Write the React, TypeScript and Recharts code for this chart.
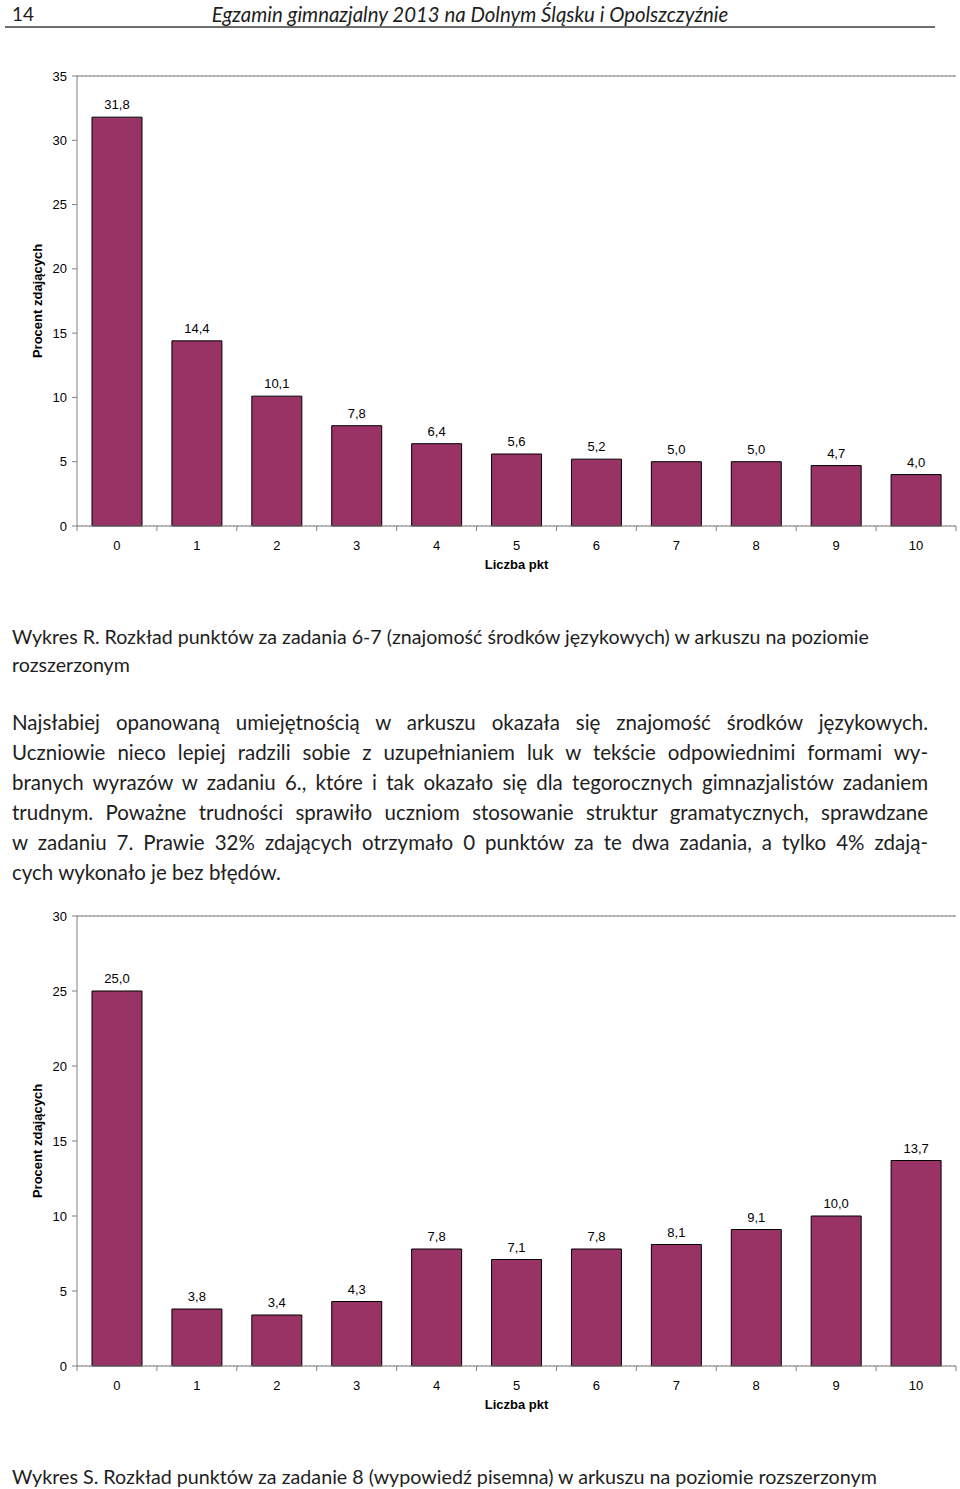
import React from 'react';
import { BarChart, Bar, XAxis, YAxis, CartesianGrid, LabelList, ReferenceLine } from 'recharts';

const categories = ['0', '1', '2', '3', '4', '5', '6', '7', '8', '9', '10'];
const valuesR = [31.8, 14.4, 10.1, 7.8, 6.4, 5.6, 5.2, 5.0, 5.0, 4.7, 4.0];
const valuesS = [25.0, 3.8, 3.4, 4.3, 7.8, 7.1, 7.8, 8.1, 9.1, 10.0, 13.7];
const ticksR = [0, 5, 10, 15, 20, 25, 30, 35];
const ticksS = [0, 5, 10, 15, 20, 25, 30];

const headerNumber = '14';
const headerTitle = 'Egzamin gimnazjalny 2013 na Dolnym Śląsku i Opolszczyźnie';
const captionR = [
  'Wykres R. Rozkład punktów za zadania 6-7 (znajomość środków językowych) w arkuszu na poziomie',
  'rozszerzonym',
];
const paragraph = [
  'Najsłabiej opanowaną umiejętnością w arkuszu okazała się znajomość środków językowych.',
  'Uczniowie nieco lepiej radzili sobie z uzupełnianiem luk w tekście odpowiednimi formami wy-',
  'branych wyrazów w zadaniu 6., które i tak okazało się dla tegorocznych gimnazjalistów zadaniem',
  'trudnym. Poważne trudności sprawiło uczniom stosowanie struktur gramatycznych, sprawdzane',
  'w zadaniu 7. Prawie 32% zdających otrzymało 0 punktów za te dwa zadania, a tylko 4% zdają-',
  'cych wykonało je bez błędów.',
];
const captionS = 'Wykres S. Rozkład punktów za zadanie 8 (wypowiedź pisemna) w arkuszu na poziomie rozszerzonym';

const xLabel = 'Liczba pkt';
const yLabel = 'Procent zdających';

const CHART_FONT = '"Liberation Sans", Arial, sans-serif';
const TEXT_FONT = 'Lato, "Open Sans", sans-serif';
const BAR_FILL = '#993366';
const AXIS_GRAY = '#808080';

const fmt = (v: any) => Number(v).toFixed(1).replace('.', ',');

function XTick(props: any) {
  const { x, y, payload, index, visibleTicksCount } = props;
  const half = payload && typeof payload.offset === 'number' ? payload.offset : 0;
  const isLast = index === (visibleTicksCount ?? 11) - 1;
  return (
    <g>
      <line x1={x - half} x2={x - half} y1={y} y2={y + 5} stroke={AXIS_GRAY} strokeWidth={1} />
      {isLast && <line x1={x + half} x2={x + half} y1={y} y2={y + 5} stroke={AXIS_GRAY} strokeWidth={1} />}
      <text x={x} y={y} dy={24} textAnchor="middle" fill="#000" fontSize={13} fontFamily={CHART_FONT}>
        {payload.value}
      </text>
    </g>
  );
}

function DistChart({ values, ticks, max }: { values: number[]; ticks: number[]; max: number }) {
  const data = categories.map((c, i) => ({ pkt: c, value: values[i] }));
  return (
    <BarChart
      width={960}
      height={600}
      data={data}
      margin={{ top: 76, right: 4, left: 0, bottom: 44 }}
      style={{ fontFamily: CHART_FONT }}
    >
      <CartesianGrid vertical={false} stroke="#a8a8a8" strokeDasharray="2 2" />
      <XAxis
        dataKey="pkt"
        height={30}
        tickSize={0}
        tickMargin={0}
        tickLine={false}
        axisLine={{ stroke: AXIS_GRAY }}
        tick={<XTick />}
        interval={0}
        label={{ value: xLabel, position: 'bottom', offset: 4, fontSize: 13, fontWeight: 'bold', fill: '#000' }}
      />
      <YAxis
        yAxisId="l"
        width={77}
        domain={[0, max]}
        ticks={ticks}
        interval={0}
        tickSize={5}
        tickMargin={5}
        axisLine={{ stroke: AXIS_GRAY }}
        tickLine={{ stroke: AXIS_GRAY }}
        tick={{ fontSize: 13, fill: '#000' }}
        label={{ value: yLabel, angle: -90, position: 'center', fontSize: 13, fontWeight: 'bold', fill: '#000', dx: -1 }}
      />
      <YAxis
        yAxisId="r"
        orientation="right"
        width={0}
        domain={[0, max]}
        ticks={ticks}
        tick={false}
        tickLine={false}
        axisLine={{ stroke: AXIS_GRAY }}
      />
      <ReferenceLine yAxisId="l" y={max} stroke={AXIS_GRAY} strokeWidth={1} />
      <Bar yAxisId="l" dataKey="value" fill={BAR_FILL} stroke="#000" strokeWidth={1} barSize={50} isAnimationActive={false}>
        <LabelList dataKey="value" position="top" offset={8} formatter={fmt} fontSize={13} fill="#000" fontFamily={CHART_FONT} />
      </Bar>
    </BarChart>
  );
}

const lineStyle: React.CSSProperties = {
  height: 30,
  lineHeight: '30px',
  whiteSpace: 'nowrap',
};

export default function App() {
  return (
    <div style={{ position: 'absolute', left: 0, top: 0, width: 960, height: 1489, background: '#fff', overflow: 'hidden', color: '#1e1e1e' }}>
      <div style={{ position: 'absolute', left: 0, top: 0 }}>
        <DistChart values={valuesR} ticks={ticksR} max={35} />
      </div>
      <div style={{ position: 'absolute', left: 0, top: 840 }}>
        <DistChart values={valuesS} ticks={ticksS} max={30} />
      </div>

      <div style={{ position: 'absolute', left: 12, top: 1, fontFamily: TEXT_FONT, fontSize: 19, lineHeight: '26px' }}>{headerNumber}</div>
      <div style={{ position: 'absolute', left: 0, width: 940, top: 1, textAlign: 'center', fontFamily: TEXT_FONT, fontSize: 20.4, lineHeight: '26px', fontStyle: 'italic' }}>{headerTitle}</div>
      <div style={{ position: 'absolute', left: 5, width: 930, top: 26, height: 2, background: '#6e6e6e' }} />

      <div style={{ position: 'absolute', left: 12, top: 623, fontFamily: TEXT_FONT, fontSize: 19.6, lineHeight: '28px' }}>
        {captionR.map((l, i) => (
          <div key={i} style={{ height: 28, whiteSpace: 'nowrap' }}>{l}</div>
        ))}
      </div>

      <div style={{ position: 'absolute', left: 12, top: 707, width: 916, fontFamily: TEXT_FONT, fontSize: 20.5 }}>
        {paragraph.map((l, i) => (
          <div
            key={i}
            style={{
              ...lineStyle,
              textAlign: i < paragraph.length - 1 ? 'justify' : 'left',
              textAlignLast: i < paragraph.length - 1 ? 'justify' : 'left',
            }}
          >
            {l}
          </div>
        ))}
      </div>

      <div style={{ position: 'absolute', left: 12, top: 1463, fontFamily: TEXT_FONT, fontSize: 19.7, lineHeight: '28px', whiteSpace: 'nowrap' }}>{captionS}</div>
    </div>
  );
}
